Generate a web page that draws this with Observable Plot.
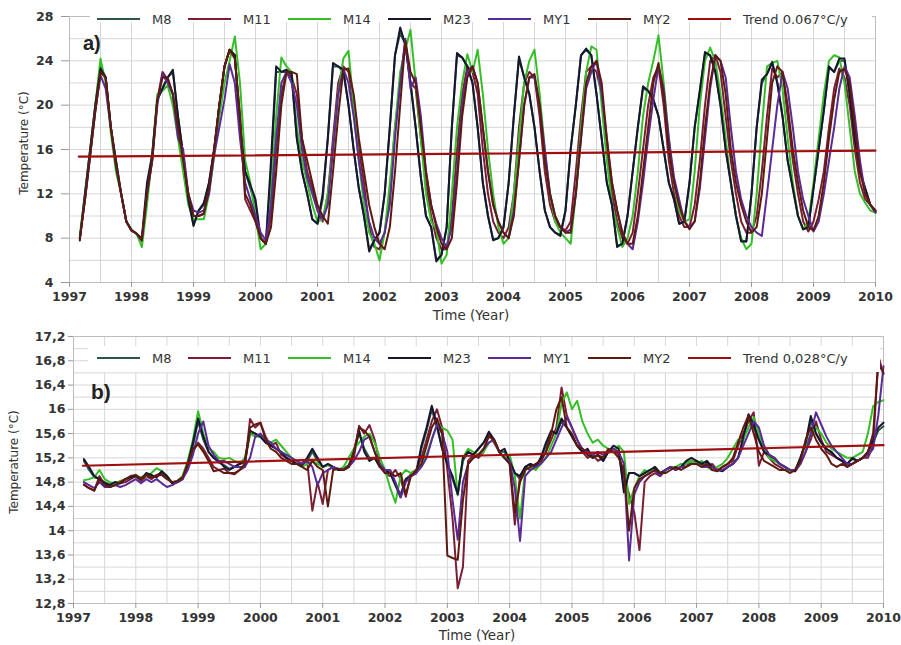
<!DOCTYPE html>
<html><head><meta charset="utf-8">
<script src="https://cdn.jsdelivr.net/npm/d3@7"></script>
<script src="https://cdn.jsdelivr.net/npm/@observablehq/plot@0.6"></script>
<style>
body{margin:0;background:#fff;font-family:"DejaVu Sans",Verdana,sans-serif;}
#wrap{position:relative;width:901px;height:645px;overflow:hidden;background:#fff;}
.panel{position:absolute;left:0;}
.lgbg{position:absolute;background:#fff;}
.legend{position:absolute;display:flex;align-items:center;height:14px;font-size:13px;color:#333;white-space:nowrap;}
.legend .it{display:flex;align-items:center;width:100px;}
.legend .it.first{width:91px;}
.legend .it.last{width:auto;}
.legend .sw{width:43px;height:0;border-top:2.5px solid;margin-right:12px;}
.tag{position:absolute;font-family:"Liberation Sans",Arial,sans-serif;font-weight:bold;color:#222;line-height:1;}
.atitle{position:absolute;color:#333;white-space:nowrap;text-align:center;line-height:1;}
g[aria-label$="tick label"]{font-weight:bold;}
</style></head>
<body>
<div id="wrap">
  <div id="top" class="panel" style="top:0"></div>
  <div id="bot" class="panel" style="top:330px"></div>
</div>
<script>
// ---------- data ----------
const seriesNames = ["M8","M11","M14","M23","MY1","MY2"];
const seriesColors = ["#2d5548","#7a1e36","#35bf27","#16162e","#5a2a96","#5e1a0e"];
const trendColor = "#a00f0f";
const trendLabelTop = "Trend 0.067°C/y";
const trendLabelBot = "Trend 0,028°C/y";
const yearTicks = [1997,1998,1999,2000,2001,2002,2003,2004,2005,2006,2007,2008,2009,2010];
const topYTicks = [4,8,12,16,20,24,28];
const botYTicks = [12.8,13.2,13.6,14,14.4,14.8,15.2,15.6,16,16.4,16.8,17.2];
const xTitle = "Time (Year)";
const yTitle = "Temperature (°C)";
// monthly values, Mar 1997 .. Jan 2010
const topM8 = [
 8,12,16,20,23.5,22.5,18,15,12,9.5,
 8.7,8.4,7.8,12.5,15.5,20.5,21.5,22.5,23,19,15.5,11.5,
 9.3,10.5,11,13,16,20,23.5,25,24.5,18.5,14,12.5,
 11,8,7.5,14,23,23,23,22.5,17,14,12,9.7,
 9.3,11.5,17,23.5,23.5,23,20,16,12.5,10,7,7.8,
 8.5,12,18,24.5,26.5,25.5,22,18,13.5,10,9,6,
 6.5,9,18,24.5,24.3,23.5,22,18,13,10,7.9,8,
 9,13,19,24.2,22.5,21,18,14,10.5,9,8.5,8.3,
 10.5,16,20,24.5,25,24.5,21,17,13,11,7.3,7.5,
 10,14,18,21.5,21.3,20.5,19,16,13,11.5,9.3,9.5,
 13,18,21.3,24.6,24.5,23,20,16,13,10,7.8,7.7,
 12,18,22,22.8,23.8,22,19,15,12.5,10,8.8,9,
 12.5,16,19.5,23.4,23,24,24,21,17,14,12.5,11,
 10.4];
const topM11 = [
 8,11.5,15.5,19.5,23,22.5,18,14.5,12,9.5,
 8.7,8.4,7.8,12,15,20.5,23,22.3,21,18,15,12,
 10,10,10.2,12.5,16,20,23.5,25,24.2,19,11.5,10.5,
 9.5,8,7.5,10,16,21,23,22.5,21,17,14,12.5,
 10.5,9.5,12,17,22,23.5,23,20,16,13,9,7.2,
 7,8.5,12,18,22,25.8,22,21.5,17,13,10,8,
 7,7,10,16,21,23.5,23,21,16,12,9.5,8.5,
 8,9,12,18,22,23,22.5,19,14,11,9.5,9,
 8.7,9.5,14,19,23,23.5,23,21,16,12,9.5,8,
 7.5,8.5,12,16,20,22.5,23.5,20,15,12,10,9,
 9,11,15,20,24,24.5,23,19,15,12,9.5,8.5,
 8.5,10,14,19,23.3,22.5,23,19,15,12,9.5,8.6,
 9.5,11.5,14,18,21.5,23.3,22.5,20,16,13,11.5,11,
 10.5];
const topM14 = [
 8.3,12,16,20,24.2,22,17.5,14,12,9.5,
 8.8,8.4,7.2,11,15.5,21,21.3,21.8,20,17,14,11,
 9.7,9.7,9.7,12,15.5,19,22,24,26.2,22,15,13,
 10,7,7.5,12,19,24.3,23.5,23,18,15,13,11,
 9.5,9.7,12,16,21,24.2,24.9,20,15,11,8.5,7.5,
 6,8.5,13,18,23,25,26.8,22,17,12,9.5,8.8,
 5.7,6.5,12,18,22,24.6,23,25,21,16,12,9,
 7.5,8,12,17,22,24,25,21,16,12,9.5,8.5,
 8,7.5,12,18,23,25.3,25,20,15,11,9,7.2,
 8,10,14,19,22,24,26.3,22,17,13,10.5,9.5,
 9.7,14,20,24,25.2,24,21,17,13,10,8,7,
 7.5,12,18,23.5,23.8,24,21.5,17,13,10,8.8,9.5,
 13,17,21,24,24.5,24.3,22,18,14,12,11.2,10.5,
 10.3];
const topM23 = [
 7.8,12,16,20,23.3,22.5,18,15,12,9.5,
 8.7,8.4,8,13,15.5,20.5,21.5,22.5,23.2,19,15.5,11.5,
 9.1,10.5,11.2,13,16,20,23.5,25,24.5,18,14,12.8,
 11.5,8,7.5,15,23.5,23,23.2,22.8,17,14,12,9.7,
 9.3,12,17,23.8,23.5,23.2,20,16,12.5,10,6.8,7.8,
 8.5,12,18,24.5,27,25.5,22,18,13.5,10,9,5.9,
 6.5,9,18,24.7,24.3,23.5,22,18,13,10,7.8,8,
 9,13,19,24.4,22.5,21,18,14,10.5,9,8.5,8.2,
 10.5,16,20,24.5,25.1,24.5,21,17,13,11,7.2,7.5,
 10,14,18,21.7,21.3,20.5,19,16,13,11.5,9.3,9.5,
 13,18,21.3,24.8,24.5,23,20,16,13,10,7.7,7.7,
 12,18,22.3,22.8,23.9,22,19,15,12.5,10,8.8,9,
 12.5,16,19.5,23.5,23,24.2,24.2,21,17,14,12.5,11,
 10.4];
const topMY1 = [
 8,11.5,15.5,19.5,22.7,21.5,18,14.5,12,9.5,
 8.7,8.4,7.8,12,15,20,22.8,22,21,17,16,12,
 10.5,10.3,10.5,12,15.5,18,20.5,23.7,22,17,13,11.5,
 10,8.5,7.8,11,17,22,23,22,20,16,13.5,12,
 10.5,9.7,11,16,21,23.3,22,19,15,12,9.5,8,
 7.5,8.5,11,17,22,26,21.5,22.5,19,14,11,9.3,
 8,7.2,9,14,20,23,23.5,22,18,14,11,9.5,
 8.5,8,10.5,15,20,22.5,22.5,20,16,12,10,9,
 8.5,8.8,12,17,21.5,23,24,21,17,13,10.5,8.5,
 7.5,7,9.5,13,17,20.5,23.5,21.5,17,13.5,11.5,9.5,
 9,9.5,12.5,17,21.5,24.5,24,22.5,18,14,11.5,10,
 9,8.5,8.2,12,16,20,23,21.5,18,14,11.5,10,
 8.6,9.5,12,15,18,21.5,23.5,22.5,19,15,12,11,
 10.3];
const topMY2 = [
 8,11.5,15.5,19.5,23,22.5,18,14.5,12,9.5,
 8.7,8.4,7.8,12,15,20.5,22.5,22.5,21,18,15,12,
 10,10,10.2,12.5,16,20,23.5,25,24.2,19,12,11,
 9.5,8,7.5,9,14,20,23,23,22.8,17,15,13,
 11,10,9.3,14,19,23.2,23.3,21,17,14,11,9,
 7.5,7,9,14,20,25.8,23,22,18,14,11,9,
 7.5,7,8,13,19,22.5,23.5,22,18,14,11,9.5,
 8.5,8,10,15,20,22.5,22.8,20,15,12,10,9,
 8.5,8.5,12,17,22,23.5,24,22,17,13,10.5,8.5,
 7.5,7.5,10,14,18,22,23.8,21,16,13,11,9.5,
 8.8,9.5,13,18,22,24.5,24,21,16,13,11,9.5,
 8.5,9,12,17,22,23.5,23,20,16,13,10.5,9,
 8.7,10,13,17,20.5,23,23.3,22,18,14,12,11,
 10.5];
const botM8 = [
 15.15,15.0,14.88,14.85,14.8,14.76,14.8,14.8,14.84,14.88,
 14.9,14.86,14.93,14.9,14.9,14.96,14.88,14.8,14.8,14.86,15.1,15.4,
 15.8,15.5,15.3,15.2,15.12,15.08,15.02,15.05,15.1,15.12,15.6,15.6,
 15.55,15.45,15.4,15.35,15.28,15.2,15.15,15.1,15.08,15.15,15.3,15.15,
 15.05,15.08,15.05,15.0,15.02,15.08,15.3,15.6,15.35,15.2,15.2,15.05,
 15.0,14.95,14.75,14.6,14.85,14.92,14.95,15.35,15.65,16.0,15.7,15.35,
 15.1,14.85,14.6,15.15,15.3,15.25,15.35,15.45,15.6,15.5,15.3,15.3,
 15.15,14.95,14.85,15.05,15.1,15.05,15.2,15.4,15.6,15.6,15.8,15.7,
 15.55,15.4,15.3,15.3,15.2,15.25,15.15,15.3,15.35,15.3,14.7,14.95,
 14.95,14.9,14.95,15.0,15.02,14.95,15.0,15.05,15.0,15.05,15.12,15.15,
 15.12,15.1,15.12,15.05,15.0,15.0,15.05,15.1,15.2,15.5,15.85,15.7,
 15.5,15.3,15.22,15.18,15.1,15.05,15.0,15.0,15.2,15.45,15.8,15.6,
 15.45,15.35,15.28,15.2,15.15,15.1,15.18,15.15,15.2,15.3,15.45,15.65,
 15.72];
const botM11 = [
 14.76,14.7,14.66,14.9,14.75,14.72,14.75,14.78,14.8,14.85,
 14.9,14.82,14.9,14.85,14.92,14.95,14.9,14.78,14.8,14.85,15.05,15.3,
 15.45,15.35,15.2,15.05,15.0,15.02,14.95,14.95,15.0,15.05,15.84,15.7,
 15.78,15.55,15.4,15.45,15.25,15.2,15.15,15.1,15.12,15.15,14.33,14.8,
 14.44,15.0,15.05,15.0,15.0,15.05,15.2,15.73,15.6,15.74,15.5,15.1,
 14.95,14.9,15.0,14.85,14.56,14.95,15.0,15.2,15.5,15.8,16.0,15.7,
 15.0,14.2,13.05,13.4,15.15,15.25,15.2,15.3,15.6,15.45,15.3,15.2,
 15.1,14.1,14.9,15.05,15.0,15.05,15.15,15.3,15.5,15.7,16.36,15.9,
 15.7,15.5,15.3,15.2,15.25,15.15,15.2,15.3,15.35,15.25,14.9,14.6,
 14.3,13.68,14.8,14.9,14.95,14.9,15.0,15.05,15.0,15.05,15.1,15.1,
 15.15,15.1,15.05,15.1,15.0,15.05,15.1,15.15,15.4,15.6,15.8,15.95,
 15.07,15.3,15.2,15.1,15.05,15.0,15.0,14.98,15.1,15.3,15.5,15.8,
 15.5,15.3,15.25,15.2,15.15,15.05,15.1,15.15,15.2,15.2,15.4,16.88,
 16.58];
const botM14 = [
 14.83,14.85,14.88,15.0,14.85,14.8,14.78,14.82,14.85,14.88,
 14.9,14.88,14.9,14.95,15.03,14.98,14.9,14.8,14.82,14.9,15.15,15.5,
 15.97,15.6,15.35,15.3,15.2,15.18,15.2,15.15,15.1,15.2,15.6,15.55,
 15.55,15.5,15.45,15.5,15.4,15.3,15.2,15.1,15.05,15.1,15.15,15.1,
 15.05,15.08,15.05,15.0,15.05,15.2,15.35,15.45,15.55,15.6,15.45,15.2,
 15.0,14.7,14.46,14.9,15.0,14.95,15.0,15.1,15.25,15.5,15.75,15.7,
 15.65,15.5,14.58,15.2,15.35,15.3,15.25,15.3,15.45,15.5,15.3,15.2,
 15.25,14.9,14.2,15.0,15.05,15.0,15.1,15.2,15.4,15.6,16.1,16.28,
 16.0,16.14,15.8,15.6,15.45,15.5,15.4,15.35,15.3,15.4,15.3,14.44,
 14.7,14.9,15.0,14.95,15.05,14.95,15.0,15.05,15.05,15.1,15.1,15.15,
 15.1,15.15,15.05,15.0,15.05,15.1,15.2,15.35,15.5,15.5,15.7,15.87,
 15.6,15.35,15.2,15.15,15.1,15.05,14.98,15.0,15.2,15.4,15.6,15.7,
 15.6,15.45,15.35,15.3,15.25,15.2,15.2,15.25,15.3,15.6,16.05,16.12,
 16.15];
const botM23 = [
 15.18,15.05,14.9,14.85,14.78,14.75,14.8,14.78,14.85,14.88,
 14.9,14.85,14.95,14.92,14.88,14.98,14.9,14.78,14.8,14.85,15.1,15.45,
 15.85,15.55,15.3,15.2,15.15,15.05,15.0,15.05,15.1,15.15,15.65,15.6,
 15.55,15.45,15.4,15.35,15.3,15.2,15.15,15.1,15.08,15.2,15.35,15.2,
 15.05,15.1,15.05,15.0,15.0,15.05,15.3,15.65,15.3,15.15,15.2,15.05,
 15.0,14.95,14.75,14.55,14.85,14.9,14.95,15.4,15.7,16.06,15.75,15.35,
 15.1,14.9,14.6,15.2,15.3,15.25,15.35,15.45,15.63,15.5,15.3,15.35,
 15.15,14.95,14.9,15.05,15.1,15.05,15.2,15.45,15.65,15.6,15.85,15.7,
 15.55,15.4,15.3,15.35,15.2,15.25,15.15,15.3,15.4,15.35,14.63,14.95,
 14.95,14.9,14.95,15.0,15.05,14.95,15.0,15.05,15.0,15.05,15.15,15.2,
 15.15,15.1,15.15,15.05,15.0,14.98,15.05,15.1,15.2,15.55,15.92,15.75,
 15.5,15.3,15.25,15.2,15.1,15.05,15.0,14.98,15.2,15.45,15.89,15.6,
 15.45,15.35,15.3,15.2,15.15,15.1,15.2,15.15,15.2,15.3,15.5,15.7,
 15.78];
const botMY1 = [
 14.8,14.75,14.7,14.8,14.72,14.72,14.75,14.72,14.75,14.8,
 14.85,14.78,14.85,14.8,14.85,14.78,14.72,14.75,14.8,14.85,15.0,15.25,
 15.6,15.8,15.4,15.25,15.15,15.15,15.1,15.05,15.05,15.05,15.2,15.55,
 15.6,15.5,15.45,15.35,15.3,15.25,15.2,15.15,15.1,15.15,15.05,14.75,
 14.95,15.0,15.05,15.02,15.0,15.05,15.15,15.3,15.5,15.55,15.3,15.1,
 15.0,15.0,14.8,14.55,14.8,14.9,14.95,15.05,15.2,15.5,15.75,15.6,
 15.3,14.5,13.85,14.8,15.1,15.2,15.25,15.35,15.45,15.5,15.3,15.2,
 15.15,14.7,13.83,14.9,15.0,15.05,15.1,15.2,15.3,15.5,15.7,15.87,
 15.7,15.5,15.35,15.3,15.25,15.3,15.25,15.3,15.35,15.3,15.1,13.51,
 14.6,14.8,14.9,14.95,15.0,14.9,15.0,15.05,15.0,15.05,15.05,15.1,
 15.1,15.05,15.05,15.05,15.0,15.0,15.05,15.1,15.2,15.4,15.6,15.8,
 15.7,15.4,15.25,15.2,15.1,15.05,15.0,15.0,15.1,15.3,15.6,15.95,
 15.75,15.55,15.4,15.3,15.2,15.1,15.1,15.15,15.2,15.25,15.35,15.9,
 16.71];
const botMY2 = [
 14.76,14.7,14.66,14.85,14.75,14.72,14.75,14.8,14.85,14.9,
 14.92,14.85,14.92,14.88,14.9,14.92,14.85,14.8,14.82,14.88,15.1,15.35,
 15.42,15.3,15.15,14.98,15.0,14.95,14.95,14.93,15.0,15.1,15.7,15.75,
 15.78,15.5,15.35,15.3,15.2,15.15,15.1,15.1,15.05,15.0,15.15,15.05,
 15.0,14.4,15.0,15.02,15.0,15.05,15.3,15.7,15.65,15.55,15.3,15.05,
 14.95,14.95,14.9,14.95,14.6,14.9,15.0,15.1,15.4,15.7,15.85,15.6,
 13.59,13.55,13.52,14.5,15.1,15.2,15.25,15.35,15.55,15.5,15.3,15.2,
 15.1,14.3,14.8,15.0,15.05,15.1,15.15,15.3,15.6,16.0,16.2,15.7,
 15.6,15.4,15.35,15.25,15.2,15.25,15.2,15.35,15.3,15.2,15.0,14.0,
 14.7,14.85,14.9,14.95,15.0,14.95,14.95,15.0,15.05,15.0,15.05,15.1,
 15.1,15.05,15.1,15.0,14.98,15.05,15.1,15.2,15.45,15.7,15.9,15.6,
 15.3,15.15,15.1,15.05,15.0,15.0,14.95,15.0,15.15,15.5,15.7,15.5,
 15.35,15.25,15.1,15.05,15.1,15.05,15.1,15.15,15.2,15.3,15.6,16.75,
 16.6];
const trendTopT = [1997.15, 2010];
const trendTopV = [15.35, 15.9];
const trendBotT = [1997.15, 2010];
const trendBotV = [15.07, 15.41];

// ---------- build ----------
const months = d3.range(2, 157).map(i => 1997 + i / 12);
function longData(arrs) {
  const out = [];
  seriesNames.forEach((s, k) => arrs[k].forEach((v, i) => { if (i < months.length) out.push({s, t: months[i], v}); }));
  return out;
}
const topData = longData([topM8, topM11, topM14, topM23, topMY1, topMY2]);
const botData = longData([botM8, botM11, botM14, botM23, botMY1, botMY2]);
const halfYears = d3.range(1997, 2010.01, 0.5);
const gridCol = "#d7d7d7";
const commaFmt = d => String(d).replace(".", ",");

function panel(opts) {
  return Plot.plot({
    width: 901, height: opts.height,
    marginLeft: opts.ml, marginRight: opts.mr, marginTop: opts.mt, marginBottom: opts.mb,
    style: {fontFamily: "'DejaVu Sans', Verdana, sans-serif", fontSize: "12.5px", background: "transparent", color: "#333"},
    x: {domain: [1997, 2010]},
    y: {domain: opts.yDomain},
    color: {domain: seriesNames, range: seriesColors},
    marks: [
      Plot.gridX(halfYears, {stroke: gridCol, strokeOpacity: 1}),
      Plot.gridY(opts.yGrid, {stroke: gridCol, strokeOpacity: 1}),
      Plot.frame({stroke: "#bdbdbd"}),
      Plot.axisX(yearTicks, {tickFormat: d => String(d), tickSize: 5, tickPadding: 5, stroke: "#999", fill: "#333", fontWeight: "bold", label: null}),
      Plot.axisY(opts.yTicks, {tickFormat: opts.yFmt, tickSize: opts.yTickSize, tickPadding: opts.yPad, stroke: "#999", fill: "#333", fontWeight: "bold", label: null}),
      Plot.line(opts.data, {x: "t", y: "v", z: "s", stroke: "s", strokeWidth: 2}),
      Plot.line(opts.trendT.map((t, i) => ({t, v: opts.trendV[i]})), {x: "t", y: "v", stroke: trendColor, strokeWidth: 2.2})
    ]
  });
}

document.getElementById("top").appendChild(panel({
  height: 330, ml: 69, mr: 26, mt: 16, mb: 48,
  yDomain: [4, 28], yGrid: d3.range(4, 28.1, 2), yTicks: topYTicks, yFmt: d => String(d),
  yTickSize: 8, yPad: 8, data: topData, trendT: trendTopT, trendV: trendTopV
}));
document.getElementById("bot").appendChild(panel({
  height: 315, ml: 73, mr: 18, mt: 6, mb: 42,
  yDomain: [12.8, 17.2], yGrid: d3.range(12.8, 17.25, 0.2), yTicks: botYTicks, yFmt: commaFmt,
  yTickSize: 5, yPad: 3, data: botData, trendT: trendBotT, trendV: trendBotV
}));

// ---------- legends, tags, titles ----------
const wrap = document.getElementById("wrap");
function addLegend(bgTop, bgH, bgLeft, bgW, centerY, trendLabel) {
  const bg = document.createElement("div");
  bg.className = "lgbg";
  Object.assign(bg.style, {left: bgLeft + "px", top: bgTop + "px", width: bgW + "px", height: bgH + "px"});
  wrap.appendChild(bg);
  const lg = document.createElement("div");
  lg.className = "legend";
  Object.assign(lg.style, {left: "97px", top: (centerY - 7) + "px"});
  const names = seriesNames.concat([trendLabel]);
  const cols = seriesColors.concat([trendColor]);
  names.forEach((n, k) => {
    const it = document.createElement("div");
    it.className = "it" + (k === 0 ? " first" : "") + (k === names.length - 1 ? " last" : "");
    const sw = document.createElement("span");
    sw.className = "sw"; sw.style.borderTopColor = cols[k];
    const lb = document.createElement("span");
    lb.textContent = n;
    it.appendChild(sw); it.appendChild(lb);
    lg.appendChild(it);
  });
  wrap.appendChild(lg);
}
addLegend(7, 15, 90, 782, 19, trendLabelTop);
addLegend(346, 26, 88, 792, 358, trendLabelBot);

function addText(cls, txt, css) {
  const d = document.createElement("div");
  d.className = cls; d.textContent = txt;
  Object.assign(d.style, css);
  wrap.appendChild(d);
  return d;
}
addText("tag", "a)", {left: "83px", top: "33px", fontSize: "20px"});
addText("tag", "b)", {left: "91px", top: "381px", fontSize: "21px"});
addText("atitle", xTitle, {left: "371px", width: "200px", top: "309px", fontSize: "13.5px"});
addText("atitle", xTitle, {left: "377px", width: "200px", top: "629px", fontSize: "13.5px"});
addText("atitle", yTitle, {left: "-76px", width: "200px", top: "137px", fontSize: "12px", transform: "rotate(-90deg)"});
addText("atitle", yTitle, {left: "-86px", width: "200px", top: "456px", fontSize: "12px", transform: "rotate(-90deg)"});
</script>
</body></html>
